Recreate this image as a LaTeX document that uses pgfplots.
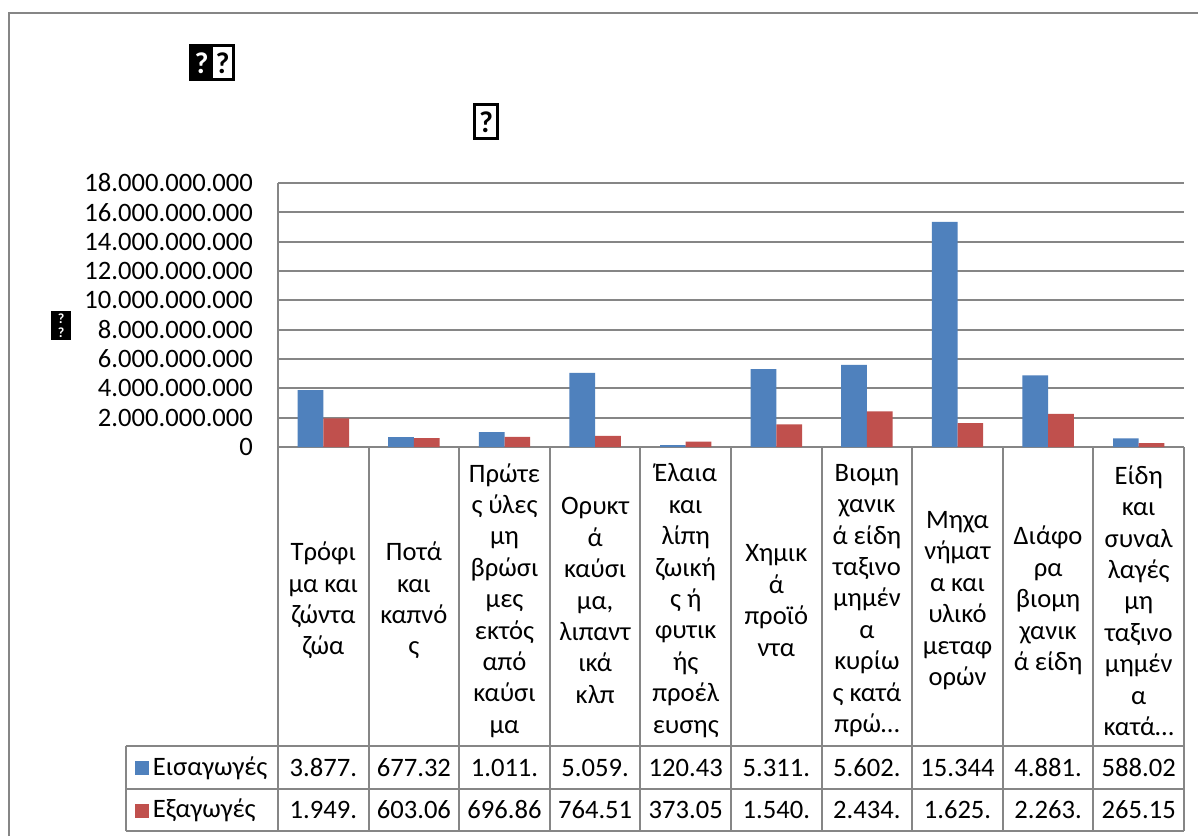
\documentclass[border=0pt]{standalone}
\usepackage{fontspec}
\setmainfont{Carlito}
\usepackage{pgfplots}
\pgfplotsset{compat=1.18}
\definecolor{imp}{HTML}{4F81BD}
\definecolor{exp}{HTML}{C0504D}
\definecolor{gridc}{HTML}{868686}

\begin{document}
\begin{tikzpicture}[x=0.5pt,y=0.5pt,font=\fontsize{13.3}{16.4}\selectfont]
\useasboundingbox (0,0) rectangle (1198,836);
\fill[white] (0,0) rectangle (1198,836);
\draw[gridc, line width=1pt] (9,0) -- (9,823) -- (1198,823);

% title and axis title, drawn as missing glyphs
\node[draw, line width=1.5pt, fill=black, text=white, minimum width=11pt, minimum height=17pt, inner sep=0pt, font=\bfseries\fontsize{15}{15}\selectfont] at (201.5,773) {?};
\node[draw, line width=1.5pt, fill=white, minimum width=11pt, minimum height=17pt, inner sep=0pt, font=\bfseries\fontsize{15}{15}\selectfont] at (222.5,773) {?};
\node[draw, line width=1.5pt, fill=white, minimum width=11.5pt, minimum height=17pt, inner sep=0pt, font=\bfseries\fontsize{15}{15}\selectfont] at (486,714) {?};
\node[draw, line width=1pt, fill=black, text=white, minimum width=9pt, minimum height=6.5pt, inner sep=0pt, font=\bfseries\fontsize{7}{7}\selectfont] at (61,517) {?};
\node[draw, line width=1pt, fill=black, text=white, minimum width=9pt, minimum height=6.5pt, inner sep=0pt, font=\bfseries\fontsize{7}{7}\selectfont] at (61,503) {?};

\begin{axis}[
  at={(139pt,194.5pt)}, anchor=south west,
  width=453pt, height=132pt, scale only axis,
  xmin=-0.5, xmax=9.5, ymin=0, ymax=18000000000,
  ybar=0pt, bar width=12.85pt,
  axis x line*=bottom, axis y line*=left,
  axis line style={-, gridc, line width=1pt},
  ymajorgrids, grid style={gridc, line width=1.1pt},
  scaled y ticks=false,
  ytick={0,2000000000,4000000000,6000000000,8000000000,10000000000,12000000000,14000000000,16000000000,18000000000},
  yticklabels={0,2.000.000.000,4.000.000.000,6.000.000.000,8.000.000.000,10.000.000.000,12.000.000.000,14.000.000.000,16.000.000.000,18.000.000.000},
  xtick={0,1,2,3,4,5,6,7,8,9},
  xticklabels={{Τρόφι\\μα και\\ζώντα\\ζώα},{Ποτά\\και\\καπνό\\ς},{Πρώτε\\ς ύλες\\μη\\βρώσι\\μες\\εκτός\\από\\καύσι\\μα},{Ορυκτ\\ά\\καύσι\\μα,\\λιπαντ\\ικά\\κλπ},{Έλαια\\και\\λίπη\\ζωική\\ς ή\\φυτικ\\ής\\προέλ\\ευσης},{Χημικ\\ά\\προϊό\\ντα},{Βιομη\\χανικ\\ά είδη\\ταξινο\\μημέν\\α\\κυρίω\\ς κατά\\πρώ…},{Μηχα\\νήματ\\α και\\υλικό\\μεταφ\\ορών},{Διάφο\\ρα\\βιομη\\χανικ\\ά είδη},{Είδη\\και\\συναλ\\λαγές\\μη\\ταξινο\\μημέν\\α\\κατά…}},
  tick style={draw=none},
  tick label style={font=\fontsize{13.3}{15.7}\selectfont},
  yticklabel style={anchor=east, xshift=-9pt},
  xticklabel style={anchor=center, yshift=-72.5pt, align=center},
]
\addplot[fill=imp, draw=none] coordinates {(0,3877000000) (1,677320000) (2,1011000000) (3,5059000000) (4,120430000) (5,5311000000) (6,5602000000) (7,15344000000) (8,4881000000) (9,588020000)};
\addplot[fill=exp, draw=none] coordinates {(0,1949000000) (1,603060000) (2,696860000) (3,764510000) (4,373050000) (5,1540000000) (6,2434000000) (7,1625000000) (8,2263000000) (9,265150000)};
\end{axis}

% data table
\begin{scope}[gridc, line width=1pt]
\foreach \k in {0,...,10} \draw (278+\k*90.6,5) -- (278+\k*90.6,389);
\draw (125.5,90) -- (1184,90);
\draw (125.5,47) -- (1184,47);
\draw (125.5,5) -- (1184,5);
\draw (125.5,5) -- (125.5,90);
\end{scope}
\fill[imp] (134.5,61) rectangle (148.7,75);
\fill[exp] (134.5,18) rectangle (148.7,32);
\node[anchor=west, inner sep=0pt] at (152.5,68) {Εισαγωγές};
\node[anchor=west, inner sep=0pt] at (152.5,26) {Εξαγωγές};
\foreach \v [count=\i from 0] in {3.877.,677.32,1.011.,5.059.,120.43,5.311.,5.602.,15.344,4.881.,588.02}
  \node at (278+90.6*\i+45.3,68) {\v};
\foreach \v [count=\i from 0] in {1.949.,603.06,696.86,764.51,373.05,1.540.,2.434.,1.625.,2.263.,265.15}
  \node at (278+90.6*\i+45.3,26) {\v};
\end{tikzpicture}
\end{document}
